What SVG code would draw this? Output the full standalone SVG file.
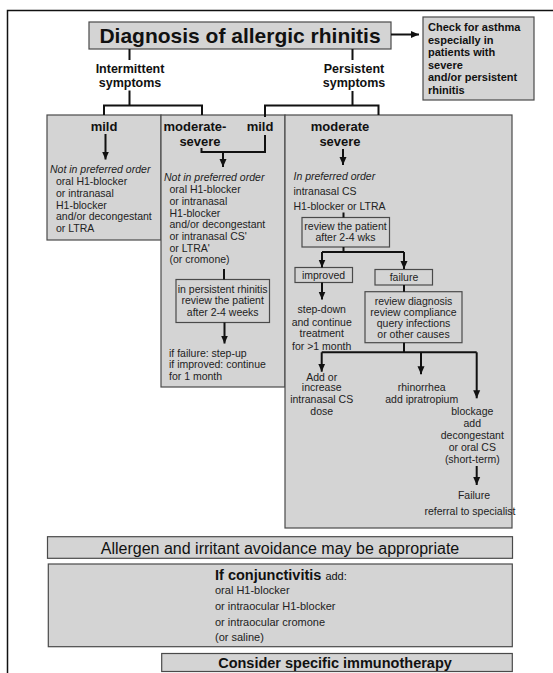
<svg xmlns="http://www.w3.org/2000/svg" width="553" height="673" viewBox="0 0 553 673">
<style>
.bx{fill:#d4d4d4;stroke:#4a4a4a;stroke-width:1.2}
.ln{fill:none;stroke:#111;stroke-width:2}
.t{font-family:"Liberation Sans",Arial,sans-serif;font-size:10.5px;fill:#222}
.i{font-style:italic}
.c{text-anchor:middle}
.b13{font-family:"Liberation Sans",Arial,sans-serif;font-size:13px;font-weight:bold;fill:#111}
.b12{font-family:"Liberation Sans",Arial,sans-serif;font-size:12.5px;font-weight:bold;fill:#111}
.b11{font-family:"Liberation Sans",Arial,sans-serif;font-size:11px;font-weight:bold;fill:#111}
</style>
<defs>
<marker id="ah" markerUnits="userSpaceOnUse" markerWidth="8" markerHeight="8" refX="8" refY="4" orient="auto">
<path d="M0,0.5 L8,4 L0,7.5 z" fill="#111"/>
</marker>
</defs>
<path d="M7.5,673 V10.5 H553" fill="none" stroke="#111" stroke-width="1.5"/>

<g id="title">
<rect class="bx" x="89" y="22" width="302" height="27"/>
<text x="240" y="43" class="c" style="font-family:'Liberation Sans',Arial,sans-serif;font-size:21px;font-weight:bold;fill:#111">Diagnosis of allergic rhinitis</text>
</g>
<g id="asthma">
<rect class="bx" x="423" y="17" width="111" height="83"/>
<text class="b11" x="428" y="31">Check for asthma</text>
<text class="b11" x="428" y="43.5">especially in</text>
<text class="b11" x="428" y="56">patients with</text>
<text class="b11" x="428" y="68.5">severe</text>
<text class="b11" x="428" y="81">and/or persistent</text>
<text class="b11" x="428" y="93.5">rhinitis</text>
</g>
<g id="intermittent">
<text class="b12 c" x="130" y="72.5">Intermittent</text>
<text class="b12 c" x="130" y="86.5">symptoms</text>
</g>
<g id="persistent">
<text class="b12 c" x="354" y="73">Persistent</text>
<text class="b12 c" x="354" y="87">symptoms</text>
</g>

<g id="box-mild">
<rect class="bx" x="47" y="115" width="114" height="125"/>
<text class="b13 c" x="104" y="131">mild</text>
<text class="t i" x="50" y="173">Not in preferred order</text>
<text class="t" x="56" y="185">oral H1-blocker</text>
<text class="t" x="56" y="196.5">or intranasal</text>
<text class="t" x="56" y="208.5">H1-blocker</text>
<text class="t" x="56" y="220">and/or decongestant</text>
<text class="t" x="56" y="232">or LTRA</text>
</g>

<g id="box-modsev">
<rect class="bx" x="161" y="115" width="124" height="272"/>
<text class="b13 c" x="195" y="131">moderate-</text>
<text class="b13 c" x="200" y="146">severe</text>
<text class="b13 c" x="260" y="131">mild</text>
<text class="t i" x="164" y="180.5">Not in preferred order</text>
<text class="t" x="169.5" y="193">oral H1-blocker</text>
<text class="t" x="169.5" y="205">or intranasal</text>
<text class="t" x="169.5" y="216.5">H1-blocker</text>
<text class="t" x="169.5" y="228">and/or decongestant</text>
<text class="t" x="169.5" y="240">or intranasal CS'</text>
<text class="t" x="169.5" y="251.5">or LTRA'</text>
<text class="t" x="169.5" y="263">(or cromone)</text>
<text class="t" x="169" y="357">if failure: step-up</text>
<text class="t" x="169" y="368">if improved: continue</text>
<text class="t" x="169" y="379.5">for 1 month</text>
</g>
<g id="review-persistent">
<rect class="bx" x="176" y="279.5" width="93.5" height="43"/>
<text class="t c" x="222.7" y="293">in persistent rhinitis</text>
<text class="t c" x="222.7" y="304">review the patient</text>
<text class="t c" x="222.7" y="315.5">after 2-4 weeks</text>
</g>

<g id="box-persistent-modsev">
<rect class="bx" x="285" y="115" width="227" height="413"/>
<text class="b13 c" x="340" y="131">moderate</text>
<text class="b13 c" x="340" y="145.5">severe</text>
<text class="t i" x="293.5" y="180">In preferred order</text>
<text class="t" x="293.5" y="194.5">intranasal CS</text>
<text class="t" x="293.5" y="210">H1-blocker or LTRA</text>
<text class="t c" x="321.7" y="313">step-down</text>
<text class="t c" x="321.7" y="325.5">and continue</text>
<text class="t c" x="321.7" y="337">treatment</text>
<text class="t c" x="321.7" y="349.5">for &gt;1 month</text>
<text class="t c" x="321.7" y="381">Add or</text>
<text class="t c" x="321.7" y="391">increase</text>
<text class="t c" x="321.7" y="403">intranasal CS</text>
<text class="t c" x="321.7" y="415">dose</text>
<text class="t c" x="421.7" y="390.5">rhinorrhea</text>
<text class="t c" x="421.7" y="403">add ipratropium</text>
<text class="t c" x="472.3" y="415">blockage</text>
<text class="t c" x="472.3" y="427">add</text>
<text class="t c" x="472.3" y="439">decongestant</text>
<text class="t c" x="472.3" y="451">or oral CS</text>
<text class="t c" x="472.3" y="463">(short-term)</text>
<text class="t c" x="474" y="498.5">Failure</text>
<text class="t c" x="470" y="514.5">referral to specialist</text>
</g>
<g id="review-wks">
<rect class="bx" x="302" y="217.5" width="87.5" height="29.5"/>
<text class="t c" x="345.5" y="229.8">review the patient</text>
<text class="t c" x="345.5" y="240.8">after 2-4 wks</text>
</g>
<g id="improved">
<rect class="bx" x="295" y="267.5" width="57.5" height="15"/>
<text class="t c" x="323.5" y="279">improved</text>
</g>
<g id="failure">
<rect class="bx" x="375" y="269.5" width="57.5" height="15.5"/>
<text class="t c" x="404" y="281">failure</text>
</g>
<g id="review-diagnosis">
<rect class="bx" x="365" y="291.7" width="97" height="51"/>
<text class="t c" x="413.5" y="304.5">review diagnosis</text>
<text class="t c" x="413.5" y="315.5">review compliance</text>
<text class="t c" x="413.5" y="326.5">query infections</text>
<text class="t c" x="413.5" y="337.8">or other causes</text>
</g>

<g id="avoidance">
<rect class="bx" x="47.5" y="536.7" width="465" height="21.6"/>
<text class="c" x="280" y="554" style="font-family:'Liberation Sans',Arial,sans-serif;font-size:16px;fill:#111">Allergen and irritant avoidance may be appropriate</text>
</g>
<g id="conjunctivitis">
<rect class="bx" x="48.3" y="564" width="464" height="82.7"/>
<text x="215" y="580" style="font-family:'Liberation Sans',Arial,sans-serif;font-size:14.5px;font-weight:bold;fill:#111">If conjunctivitis <tspan style="font-size:11px;font-weight:normal">add:</tspan></text>
<text class="t" x="215" y="594" style="font-size:11px">oral H1-blocker</text>
<text class="t" x="215" y="610" style="font-size:11px">or intraocular H1-blocker</text>
<text class="t" x="215" y="625.7" style="font-size:11px">or intraocular cromone</text>
<text class="t" x="215" y="641.3" style="font-size:11px">(or saline)</text>
</g>
<g id="immunotherapy">
<rect class="bx" x="161.7" y="653.5" width="350.6" height="18"/>
<text class="c" x="335" y="668" style="font-family:'Liberation Sans',Arial,sans-serif;font-size:14.5px;font-weight:bold;fill:#111">Consider specific immunotherapy</text>
</g>

<g id="connectors">
<path class="ln" d="M391,34.5 H419" marker-end="url(#ah)"/>
<path class="ln" d="M129.5,49 V60 M129.5,90.5 V105.5 M104,115 V105.5 H202 V115"/>
<path class="ln" d="M352.5,49 V60 M352.5,91 V105.5 M265,117 V105.5 H378.5 V115"/>
<path class="ln" d="M105.5,134 V159.5" marker-end="url(#ah)"/>
<path class="ln" d="M265,135 V152 H201.5 V148"/>
<path class="ln" d="M223,152 V167" marker-end="url(#ah)"/>
<path class="ln" d="M224,269 V279.5"/>
<path class="ln" d="M224.5,322.5 V343.5" marker-end="url(#ah)"/>
<path class="ln" d="M343,149 V165" marker-end="url(#ah)"/>
<path class="ln" d="M343.5,212.5 V217.5 M343.5,247 V252 M322,252 H404"/>
<path class="ln" d="M322,252 V267.5" marker-end="url(#ah)"/>
<path class="ln" d="M404,252 V269" marker-end="url(#ah)"/>
<path class="ln" d="M322,282.5 V299.5" marker-end="url(#ah)"/>
<path class="ln" d="M404,285 V291.7 M404,342.7 V352.3 M321.7,352.3 H476.7"/>
<path class="ln" d="M321.7,352.3 V371.7" marker-end="url(#ah)"/>
<path class="ln" d="M421,352.3 V374.3" marker-end="url(#ah)"/>
<path class="ln" d="M476.7,352.3 V398.3" marker-end="url(#ah)"/>
<path class="ln" d="M476.7,466 V485" marker-end="url(#ah)"/>
</g>
</svg>
